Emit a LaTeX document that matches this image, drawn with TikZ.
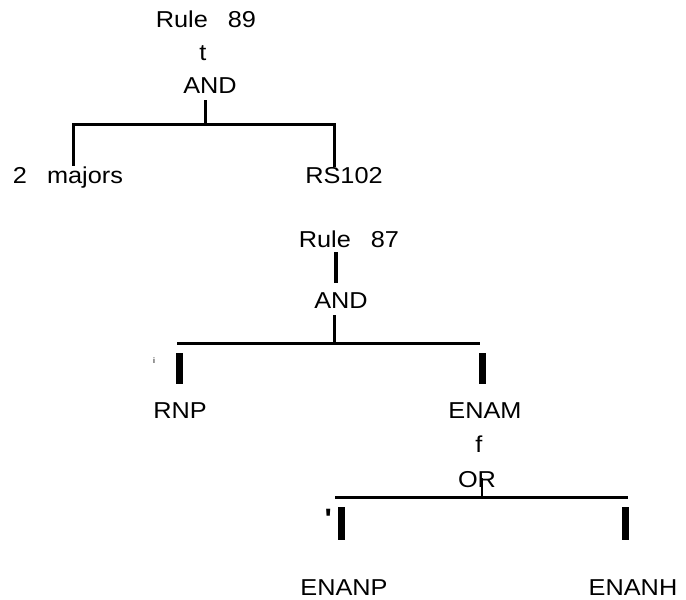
\documentclass[tikz,border=0pt]{standalone}
\usepackage{fontspec}
\setmainfont{Liberation Sans}[FakeStretch=1.1]
\begin{document}
\begin{tikzpicture}[x=1pt,y=-1pt,
  lbl/.style={inner sep=0pt,anchor=base,font=\fontsize{23}{25}\selectfont},
  tiny/.style={inner sep=0pt,anchor=base,font=\fontsize{8}{9}\selectfont},
  conn/.style={line width=3pt},
  stub/.style={line width=7pt}]
\useasboundingbox (0,0) rectangle (686,600);

% Rule 89
\node[lbl] (r89) at (206,27) {Rule\hspace{13pt} 89};
\node[lbl] (t) at (203,60) {t};
\node[lbl] (and1) at (210,93) {AND};
\node[lbl] (maj) at (68,183) {2\hspace{13pt} majors};
\node[lbl] (rs) at (344,183) {RS102};
\coordinate (b1m) at (205,124);
\coordinate (b1l) at (73,124);
\coordinate (b1r) at (334,124);
\draw[conn] (b1m |- 0,100) -- (b1m);
\draw[conn,line cap=rect] (b1l) -- (b1r);
\draw[conn] (b1l) -- (b1l |- maj.north);
\draw[conn] (b1r) -- (b1r |- rs.north);

% Rule 87
\node[lbl] (r87) at (349,247) {Rule\hspace{13pt} 87};
\node[lbl] (and2) at (341,308) {AND};
\node[lbl] (rnp) at (180,418) {RNP};
\node[lbl] (enam) at (485,418) {ENAM};
\node[tiny] (dot) at (154,363) {i};
\draw[line width=4pt] (336,252) -- (336,283);
\coordinate (b2m) at (334,343);
\coordinate (b2l) at (177,343);
\coordinate (b2r) at (480,343);
\draw[conn] (334,315) -- (b2m);
\draw[conn] (b2l) -- (b2r);
\draw[stub] (179.5,353) -- (179.5,384);
\draw[stub] (482.5,353) -- (482.5,384);

% ENAM
\node[lbl] (f) at (479,452) {f};
\node[lbl] (or) at (477,487) {OR};
\node[lbl] (enanp) at (344,595) {ENANP};
\node[lbl] (enanh) at (633,595) {ENANH};
\node[tiny,font=\fontsize{28}{28}\selectfont\bfseries] (apos) at (328,528) {\textquotesingle};
\coordinate (b3m) at (482,497);
\coordinate (b3l) at (335,497);
\coordinate (b3r) at (628,497);
\draw[line width=2.5pt] (482,478) -- (b3m);
\draw[conn] (b3l) -- (b3r);
\draw[stub] (341,507) -- (341,540);
\draw[stub] (625.5,507) -- (625.5,540);
\end{tikzpicture}
\end{document}
